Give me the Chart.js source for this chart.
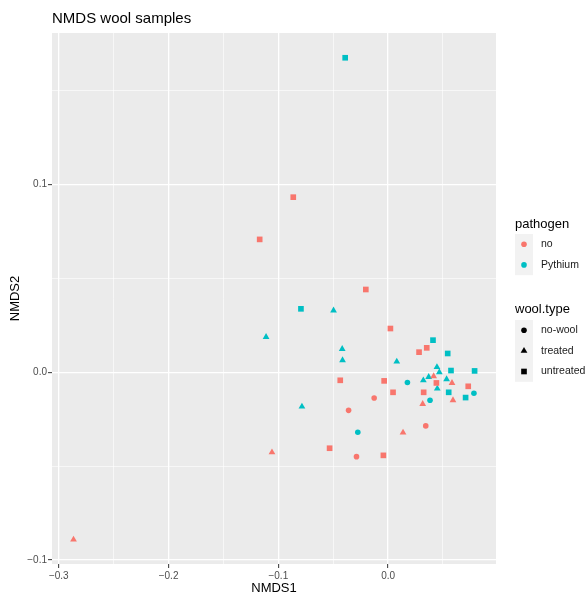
<!DOCTYPE html>
<html>
<head>
<meta charset="utf-8">
<script src="https://cdn.jsdelivr.net/npm/chart.js@4.4.1/dist/chart.umd.min.js"></script>
<style>
html,body{margin:0;padding:0;background:#fff;}
#wrap{width:585px;height:596px;position:relative;}
</style>
</head>
<body>
<div id="wrap"><canvas id="c" width="585" height="596"></canvas></div>
<script>
// ---- data ----
const noNoWoolX = [-0.0127, -0.0360, 0.0343, -0.0288];
const noNoWoolY = [-0.0137, -0.0203, -0.0286, -0.0450];

const noTreatedX = [-0.2866, -0.1058, 0.0136, 0.0315, 0.0591, 0.0582, 0.0415];
const noTreatedY = [-0.0892, -0.0427, -0.0322, -0.0169, -0.0149, -0.0057, -0.0021];

const noUntreatedX = [-0.0864, -0.1170, -0.0203, 0.0021, 0.0282, 0.0352, -0.0436, -0.0036, 0.0045, 0.0440, 0.0324, 0.0730, -0.0533, -0.0043];
const noUntreatedY = [0.0933, 0.0708, 0.0441, 0.0233, 0.0107, 0.0130, -0.0043, -0.0046, -0.0107, -0.0057, -0.0107, -0.0075, -0.0405, -0.0443];

const pyNoWoolX = [0.0176, 0.0382, 0.0782, -0.0276];
const pyNoWoolY = [-0.0055, -0.0149, -0.0112, -0.0320];

const pyTreatedX = [-0.0497, -0.1112, -0.0418, -0.0415, 0.0079, -0.0785, 0.0445, 0.0467, 0.0321, 0.0370, 0.0533, 0.0448];
const pyTreatedY = [0.0329, 0.0188, 0.0124, 0.0064, 0.0057, -0.0183, 0.0027, 0.0000, -0.0043, -0.0025, -0.0037, -0.0087];

const pyUntreatedX = [-0.0391, -0.0794, 0.0409, 0.0543, 0.0573, 0.0788, 0.0552, 0.0706];
const pyUntreatedY = [0.1676, 0.0338, 0.0171, 0.0100, 0.0009, 0.0007, -0.0107, -0.0135];

const xTicks = [-0.30, -0.25, -0.20, -0.15, -0.10, -0.05, 0.00, 0.05];
const yTicks = [-0.10, -0.05, 0.00, 0.05, 0.10, 0.15];

const pathogenLevels = ['no', 'Pythium'];
const woolLevels = ['no-wool', 'treated', 'untreated'];

// ---- styling ----
const RED = '#F8766D', CYAN = '#00BFC4';
const shapeStyle = {'no-wool': ['circle', 2.8], 'treated': ['triangle', 3.9], 'untreated': ['rect', 4.0]};

function pts(xs, ys){ return xs.map((x,i)=>({x:x, y:ys[i]})); }
function ds(label, xs, ys, color, wool){
  return {label: label, data: pts(xs, ys), pointStyle: shapeStyle[wool][0], pointRadius: shapeStyle[wool][1],
    backgroundColor: color, borderWidth: 0, pointBorderWidth: 0, pointHoverRadius: shapeStyle[wool][1]};
}
const datasets = [
  ds('no / no-wool', noNoWoolX, noNoWoolY, RED, 'no-wool'),
  ds('no / treated', noTreatedX, noTreatedY, RED, 'treated'),
  ds('no / untreated', noUntreatedX, noUntreatedY, RED, 'untreated'),
  ds('Pythium / no-wool', pyNoWoolX, pyNoWoolY, CYAN, 'no-wool'),
  ds('Pythium / treated', pyTreatedX, pyTreatedY, CYAN, 'treated'),
  ds('Pythium / untreated', pyUntreatedX, pyUntreatedY, CYAN, 'untreated')
];

const isMajor = v => Math.abs(v*10 - Math.round(v*10)) < 1e-6;
const fmt = v => { if (!isMajor(v)) return ''; const s = Math.abs(v).toFixed(1); return (v < -1e-9 ? '\u2212' : '') + s; };
const FONT = "'Liberation Sans', Arial, sans-serif";

const gridOpts = {
  color: '#FFFFFF',
  lineWidth: c => (c.tick && isMajor(c.tick.value)) ? 1.3 : 0.6,
  tickColor: c => (c.tick && isMajor(c.tick.value)) ? '#333333' : 'rgba(0,0,0,0)',
  tickWidth: 1,
  tickLength: 4,
  drawTicks: true
};

function drawShape(ctx, shape, x, y, r){
  ctx.beginPath();
  if (shape === 'circle') { ctx.arc(x, y, r, 0, Math.PI*2); }
  else if (shape === 'triangle') {
    for (let k=0;k<3;k++){ const a = k*2*Math.PI/3; const px = x + Math.sin(a)*r, py = y - Math.cos(a)*r; if(k===0) ctx.moveTo(px,py); else ctx.lineTo(px,py); }
    ctx.closePath();
  } else { const h = r*Math.SQRT1_2; ctx.rect(x-h, y-h, 2*h, 2*h); }
  ctx.fill();
}

const panelBg = {
  id: 'panelBg',
  beforeDraw(chart){
    const {ctx, chartArea:a} = chart;
    ctx.save(); ctx.fillStyle = '#EBEBEB'; ctx.fillRect(a.left, a.top, a.right-a.left, a.bottom-a.top); ctx.restore();
  },
  afterDraw(chart){
    const ctx = chart.ctx;
    ctx.save();
    // title
    ctx.fillStyle = '#000000'; ctx.textBaseline = 'middle'; ctx.textAlign = 'left';
    ctx.font = "15px " + FONT;
    ctx.fillText('NMDS wool samples', 52, 19);
    // legend
    const kx = 515, kw = 18, kh = 20.6, tx = 541;
    // pathogen
    ctx.font = "13px " + FONT; ctx.fillStyle = '#000';
    ctx.fillText('pathogen', 515, 224);
    let y0 = 234;
    ctx.fillStyle = '#F2F2F2'; ctx.fillRect(kx, y0, kw, kh*pathogenLevels.length);
    pathogenLevels.forEach((lv,i)=>{
      const cy = y0 + kh*i + kh/2;
      ctx.fillStyle = i===0 ? RED : CYAN; drawShape(ctx, 'circle', kx+kw/2, cy, 2.8);
      ctx.fillStyle = '#1A1A1A'; ctx.font = "10.5px " + FONT; ctx.fillText(lv, tx, cy);
    });
    // wool.type
    ctx.font = "13px " + FONT; ctx.fillStyle = '#000';
    ctx.fillText('wool.type', 515, 309);
    y0 = 320;
    ctx.fillStyle = '#F2F2F2'; ctx.fillRect(kx, y0, kw, kh*woolLevels.length);
    woolLevels.forEach((lv,i)=>{
      const cy = y0 + kh*i + kh/2;
      ctx.fillStyle = '#000'; drawShape(ctx, shapeStyle[lv][0], kx+kw/2, cy, shapeStyle[lv][1]);
      ctx.fillStyle = '#1A1A1A'; ctx.font = "10.5px " + FONT; ctx.fillText(lv, tx, cy);
    });
    ctx.restore();
  }
};

new Chart(document.getElementById('c'), {
  type: 'scatter',
  data: {datasets: datasets},
  plugins: [panelBg],
  options: {
    responsive: false, animation: false, events: [],
    layout: {padding: {left: 0, top: 33, right: 89, bottom: 0}},
    plugins: {legend: {display: false}, title: {display: false}, tooltip: {enabled: false}},
    scales: {
      x: {
        type: 'linear', min: -0.3062, max: 0.0983,
        afterBuildTicks: s => { s.ticks = xTicks.map(v => ({value: v})); },
        afterFit: s => { s.height = 32; },
        grid: gridOpts, border: {display: false},
        ticks: {callback: v => fmt(v), color: '#4D4D4D', font: {size: 10, family: FONT}, padding: 2, maxRotation: 0, autoSkip: false},
        title: {display: true, text: 'NMDS1', color: '#000', font: {size: 13, family: FONT, lineHeight: 1}, padding: {top: 0, bottom: 1}}
      },
      y: {
        type: 'linear', min: -0.1022, max: 0.1808,
        afterBuildTicks: s => { s.ticks = yTicks.map(v => ({value: v})); },
        afterFit: s => { s.width = 52; },
        grid: gridOpts, border: {display: false},
        ticks: {callback: v => fmt(v), color: '#4D4D4D', font: {size: 10, family: FONT}, padding: 1, autoSkip: false},
        title: {display: true, text: 'NMDS2', color: '#000', font: {size: 13, family: FONT, lineHeight: 1}, padding: {top: 8.5, bottom: 0}}
      }
    }
  }
});
</script>
</body>
</html>
